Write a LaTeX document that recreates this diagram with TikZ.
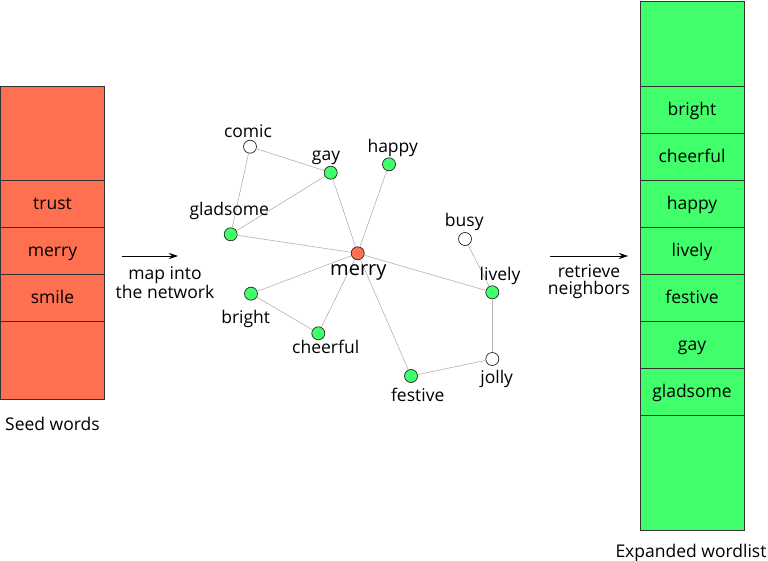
\documentclass[tikz,border=0pt]{standalone}
\usepackage{fontspec}
\setmainfont{Open Sans}
\usetikzlibrary{positioning,arrows.meta}
\definecolor{seedred}{RGB}{255,112,80}
\definecolor{hitgreen}{RGB}{64,255,106}

\begin{document}
\begin{tikzpicture}[
		x=1pt, y=-1pt,
		>={Stealth[length=9pt, width=6pt]},
		word/.style={font=\fontsize{17.5}{20}\selectfont, inner sep=0pt, text height=14pt, text depth=2pt},
		two lines/.style={font=\fontsize{17.5}{19}\selectfont, inner sep=0pt, align=center},
		cell/.style={word, draw=black!80, line width=0.8pt, minimum width=104pt, minimum height=47pt, outer sep=0pt},
		seed cell/.style={cell, fill=seedred},
		list cell/.style={cell, fill=hitgreen},
		vertex/.style={circle, draw=black!85, line width=0.7pt, minimum size=13pt, inner sep=0pt, fill=white},
		hit/.style={vertex, fill=hitgreen},
		link/.style={draw=black!30, line width=0.6pt}
		]
		\useasboundingbox (0,0) rectangle (768,561);
		
		% seed words
		\node[seed cell, minimum height=94pt] (seedtop) at (52.5,133) {};
		\node[seed cell, below=0pt of seedtop] (trust) {trust};
		\node[seed cell, below=0pt of trust] (smerry) {merry};
		\node[seed cell, below=0pt of smerry] (smile) {smile};
		\node[seed cell, minimum height=78pt, below=0pt of smile] (seedbot) {};
		\node[word] (seedcap) at (52.5,424) {Seed words};
		
		% expanded wordlist
		\node[list cell, minimum height=85pt] (listtop) at (692,43.5) {};
		\node[list cell, below=0pt of listtop] (lbright) {bright};
		\node[list cell, below=0pt of lbright] (lcheerful) {cheerful};
		\node[list cell, below=0pt of lcheerful] (lhappy) {happy};
		\node[list cell, below=0pt of lhappy] (llively) {lively};
		\node[list cell, below=0pt of llively] (lfestive) {festive};
		\node[list cell, below=0pt of lfestive] (lgay) {gay};
		\node[list cell, below=0pt of lgay] (lgladsome) {gladsome};
		\node[list cell, minimum height=115pt, below=0pt of lgladsome] (listbot) {};
		\node[word] (listcap) at (691,551) {Expanded wordlist};
		
		% arrows
		\coordinate (MapStart) at (122,256);
		\coordinate (MapEnd) at (178,256);
		\draw[->, line width=0.8pt] (MapStart) -- (MapEnd);
		\node[two lines] (maptext) at (165,283) {map into\\the network};
		\coordinate (GetStart) at (550,256);
		\coordinate (GetEnd) at (628,256);
		\draw[->, line width=0.8pt] (GetStart) -- (GetEnd);
		\node[two lines, font=\fontsize{17.5}{17}\selectfont] (gettext) at (589,282) {retrieve\\neighbors};
		
		% network
		\node[vertex, fill=seedred] (merry) at (357.7,253.3) {};
		\node[vertex] (comic) at (250,146.7) {};
		\node[hit] (gay) at (330.7,172.7) {};
		\node[hit] (happy) at (389,164.3) {};
		\node[hit] (gladsome) at (230.7,234.3) {};
		\node[vertex] (busy) at (465,239) {};
		\node[hit] (lively) at (492.3,292.3) {};
		\node[hit] (bright) at (251,293.7) {};
		\node[hit] (cheerful) at (318.3,333.3) {};
		\node[vertex] (jolly) at (492.3,359) {};
		\node[hit] (festive) at (411,376) {};
		
		\foreach \a/\b in {comic/gay, comic/gladsome, gay/gladsome, gay/merry, happy/merry,
			gladsome/merry, merry/bright, merry/cheerful, bright/cheerful, merry/festive,
			merry/lively, busy/lively, lively/jolly, jolly/festive}
		\draw[link] (\a) -- (\b);
		
		\node[word] (comic-l) at (248,132) {comic};
		\node[word] (gay-l) at (326,155) {gay};
		\node[word] (happy-l) at (392.7,147) {happy};
		\node[word] (gladsome-l) at (229.3,209.5) {gladsome};
		\node[word, font=\fontsize{20}{22}\selectfont] (merry-l) at (358.3,269.5) {merry};
		\node[word] (busy-l) at (464.3,221) {busy};
		\node[word] (lively-l) at (500,274.5) {lively};
		\node[word] (bright-l) at (245.7,317.5) {bright};
		\node[word] (cheerful-l) at (325.7,347) {cheerful};
		\node[word] (jolly-l) at (496.7,377) {jolly};
		\node[word] (festive-l) at (417.7,395) {festive};
	\end{tikzpicture}
\end{document}
